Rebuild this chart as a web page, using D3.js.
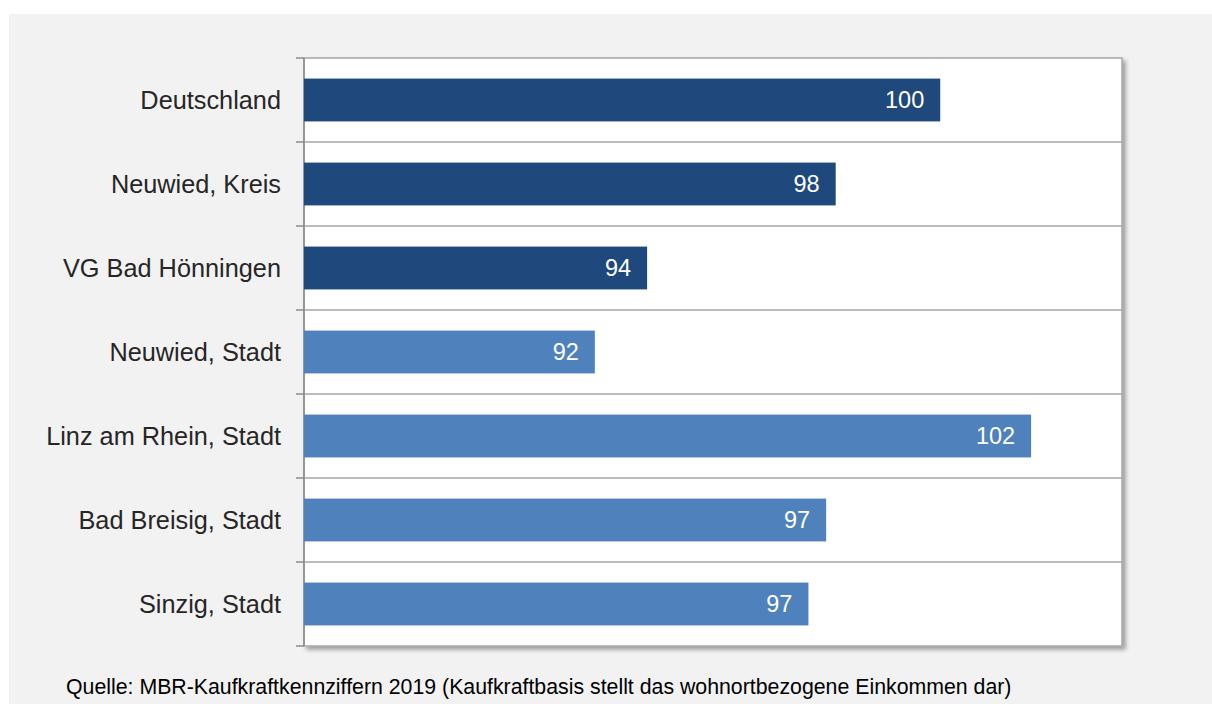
<!DOCTYPE html>
<html>
<head>
<meta charset="utf-8">
<script src="https://cdn.jsdelivr.net/npm/d3@7"></script>
<style>
  html, body { margin: 0; padding: 0; background: #ffffff; }
  svg { display: block; font-family: Arial, "Liberation Sans", sans-serif; }
</style>
</head>
<body>
<div id="chart"></div>
<script>
// Data
const categories = ["Deutschland", "Neuwied, Kreis", "VG Bad Hönningen", "Neuwied, Stadt",
    "Linz am Rhein, Stadt", "Bad Breisig, Stadt", "Sinzig, Stadt"];
const values = [100.0, 97.7, 93.55, 92.4, 102.0, 97.49, 97.1];
const groups = ["Vergleich", "Vergleich", "Vergleich", "Gemeinde", "Gemeinde", "Gemeinde", "Gemeinde"];
const sourceText = "Quelle: MBR-Kaufkraftkennziffern 2019 (Kaufkraftbasis stellt das wohnortbezogene Einkommen dar)";

const data = categories.map((c, i) => ({ name: c, value: values[i], group: groups[i] }));

const W = 1212, H = 704;
const plot = { left: 304, right: 1122, top: 58, bottom: 646 };

const svg = d3.select("#chart").append("svg")
    .attr("width", W)
    .attr("height", H);

// shadow for the plot frame
const defs = svg.append("defs");
const filter = defs.append("filter").attr("id", "shadow")
    .attr("x", "-5%").attr("y", "-5%").attr("width", "110%").attr("height", "110%");
filter.append("feDropShadow")
    .attr("dx", 3).attr("dy", 3).attr("stdDeviation", 2)
    .attr("flood-color", "#000").attr("flood-opacity", 0.35);

// grey panel
svg.append("rect")
    .attr("x", 9).attr("y", 14)
    .attr("width", W - 9).attr("height", H - 14)
    .attr("fill", "#f2f2f2");

// plot area
svg.append("rect")
    .attr("x", plot.left).attr("y", plot.top)
    .attr("width", plot.right - plot.left).attr("height", plot.bottom - plot.top)
    .attr("fill", "#ffffff")
    .attr("stroke", "#a6a6a6")
    .attr("stroke-width", 1.5)
    .attr("filter", "url(#shadow)");

const colorScale = d3.scaleOrdinal()
    .domain(["Vergleich", "Gemeinde"])
    .range(["#1f497d", "#4f81bd"]);

const x = d3.scaleLinear()
    .domain([86, 104])
    .range([plot.left, plot.right]);

const grid = d3.scaleBand()
    .domain(categories)
    .range([plot.top, plot.bottom])
    .padding(0);

const y = d3.scaleBand()
    .domain(categories)
    .range([plot.top, plot.bottom])
    .paddingInner(0.49)
    .paddingOuter(0.245);

// horizontal gridlines between categories
const boundaries = categories.slice(1).map(c => grid(c));
svg.selectAll(".grid")
    .data(boundaries)
    .enter()
    .append("line")
    .attr("class", "grid")
    .attr("x1", plot.left).attr("x2", plot.right)
    .attr("y1", d => d).attr("y2", d => d)
    .attr("stroke", "#a6a6a6")
    .attr("stroke-width", 1.5);

// category axis with ticks between bands
const allBounds = [plot.top].concat(boundaries, [plot.bottom]);
svg.append("line")
    .attr("x1", plot.left).attr("x2", plot.left)
    .attr("y1", plot.top).attr("y2", plot.bottom)
    .attr("stroke", "#8c8c8c")
    .attr("stroke-width", 1.5);
svg.selectAll(".tick")
    .data(allBounds)
    .enter()
    .append("line")
    .attr("class", "tick")
    .attr("x1", plot.left - 8).attr("x2", plot.left)
    .attr("y1", d => d).attr("y2", d => d)
    .attr("stroke", "#8c8c8c")
    .attr("stroke-width", 1.5);

svg.selectAll(".cat")
    .data(data)
    .enter()
    .append("text")
    .attr("class", "cat")
    .attr("x", plot.left - 23)
    .attr("y", d => y(d.name) + y.bandwidth() / 2)
    .attr("dy", "0.36em")
    .attr("text-anchor", "end")
    .attr("font-size", "25.3px")
    .attr("fill", "#262626")
    .text(d => d.name);

// bars
svg.selectAll(".bar")
    .data(data)
    .enter()
    .append("rect")
    .attr("class", "bar")
    .attr("x", x(86))
    .attr("y", d => y(d.name))
    .attr("width", d => x(d.value) - x(86))
    .attr("height", y.bandwidth())
    .attr("fill", d => colorScale(d.group));

// value labels inside bar end
svg.selectAll(".val")
    .data(data)
    .enter()
    .append("text")
    .attr("class", "val")
    .attr("x", d => x(d.value) - 16)
    .attr("y", d => y(d.name) + y.bandwidth() / 2)
    .attr("dy", "0.36em")
    .attr("text-anchor", "end")
    .attr("font-size", "23.5px")
    .attr("fill", "#ffffff")
    .text(d => Math.round(d.value));

// source note
svg.append("text")
    .attr("x", 66)
    .attr("y", 694)
    .attr("font-size", "21.3px")
    .attr("fill", "#000000")
    .text(sourceText);
</script>
</body>
</html>
